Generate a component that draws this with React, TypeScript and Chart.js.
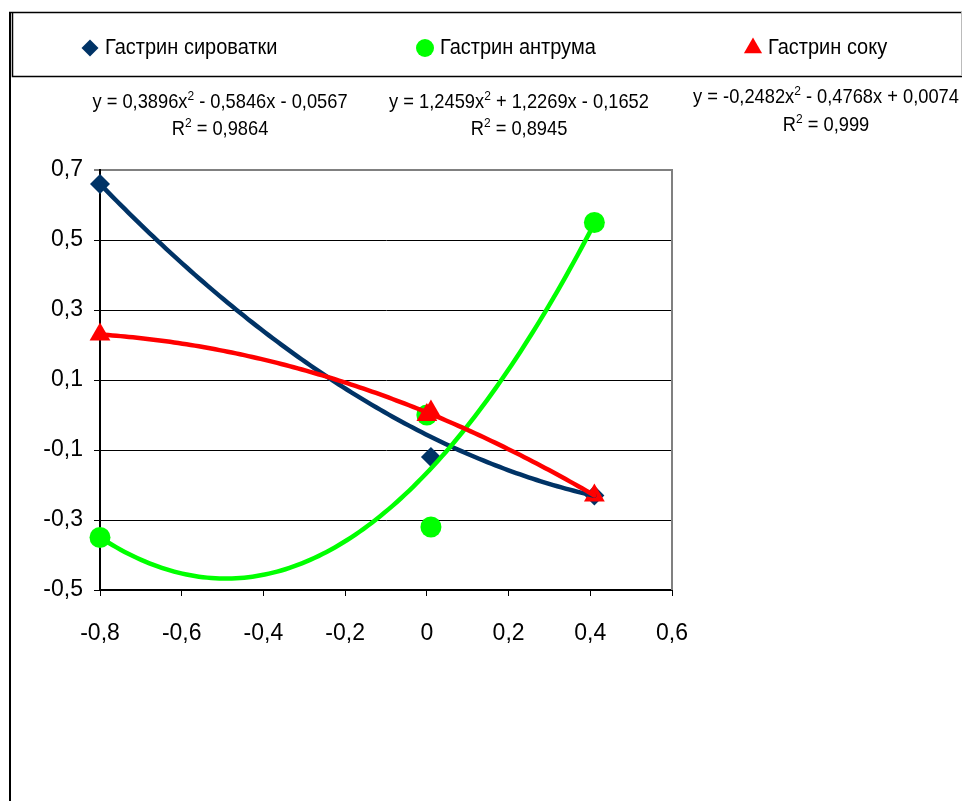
import React, { useEffect, useRef } from "react";
import { Chart, registerables } from "chart.js";
Chart.register(...registerables);

// ---- data ----
const seriesNames = ["Гастрин сироватки", "Гастрин антрума", "Гастрин соку"];
const serumX = [-0.8, 0.01, 0.0, 0.41];
const serumY = [0.66, -0.12, 0.0, -0.23];
const antrumX = [-0.8, 0.01, 0.0, 0.41];
const antrumY = [-0.35, -0.32, 0.0, 0.55];
const juiceX = [-0.8, 0.0, 0.01, 0.41];
const juiceY = [0.23, 0.0, 0.01, -0.23];
// polynomial trendline coefficients [a, b, c] for y = a x^2 + b x + c
const serumTrend = [0.3896, -0.5846, -0.0567];
const antrumTrend = [1.2459, 1.2269, -0.1652];
const juiceTrend = [-0.2482, -0.4768, 0.0074];
const rSquared = ["0,9864", "0,8945", "0,999"];
const trendRange = [-0.8, 0.41];
const xTickRange = [-0.8, 0.6];
const yTickRange = [-0.5, 0.7];
const tickStep = 0.2;

// ---- styles ----
const colors = ["#003366", "#00FF00", "#FF0000"];
const pointStyles = ["rectRot", "circle", "triangle"];
const pointRadii = [10, 10.5, 12];
const FONT = "'Liberation Sans', Arial, sans-serif";

const fmt = (v: number) => {
  if (Math.abs(v) < 1e-9) return "0";
  return v.toFixed(1).replace(".", ",");
};
const fmtCoef = (v: number) => Math.abs(v).toFixed(4).replace(".", ",");

function drawMarker(ctx: CanvasRenderingContext2D, style: string, x: number, y: number, r: number, color: string) {
  ctx.save();
  ctx.fillStyle = color;
  ctx.beginPath();
  if (style === "rectRot") {
    ctx.moveTo(x, y - r);
    ctx.lineTo(x + r, y);
    ctx.lineTo(x, y + r);
    ctx.lineTo(x - r, y);
  } else if (style === "circle") {
    ctx.arc(x, y, r, 0, Math.PI * 2);
  } else {
    ctx.moveTo(x, y - r);
    ctx.lineTo(x + r * 0.866, y + r * 0.5);
    ctx.lineTo(x - r * 0.866, y + r * 0.5);
  }
  ctx.closePath();
  ctx.fill();
  ctx.restore();
}

const framePlugin = {
  id: "frame",
  beforeDraw(chart: any) {
    const ctx = chart.ctx as CanvasRenderingContext2D;
    ctx.save();
    ctx.fillStyle = "#ffffff";
    ctx.fillRect(0, 0, chart.width, chart.height);
    ctx.strokeStyle = "#000000";
    // outer frame
    ctx.lineWidth = 2;
    ctx.beginPath();
    ctx.moveTo(10, 12);
    ctx.lineTo(10, chart.height);
    ctx.stroke();
    ctx.lineWidth = 1.5;
    ctx.beginPath();
    ctx.moveTo(9, 12.5);
    ctx.lineTo(chart.width, 12.5);
    ctx.stroke();
    // legend box
    ctx.lineWidth = 1.5;
    ctx.beginPath();
    ctx.moveTo(12.5, 12);
    ctx.lineTo(12.5, 76.5);
    ctx.lineTo(chart.width, 76.5);
    ctx.stroke();
    ctx.strokeStyle = "#bbbbbb";
    ctx.lineWidth = 1;
    ctx.beginPath();
    ctx.moveTo(961.5, 12);
    ctx.lineTo(961.5, 76);
    ctx.stroke();

    // legend items
    const legendX = [90, 425, 753];
    const textX = [105, 440, 768];
    ctx.font = `20px ${FONT}`;
    ctx.textBaseline = "middle";
    ctx.textAlign = "left";
    for (let i = 0; i < 3; i++) {
      drawMarker(ctx, pointStyles[i], legendX[i], 48, [8.5, 9, 10.5][i], colors[i]);
      ctx.fillStyle = "#000000";
      ctx.save();
      ctx.translate(textX[i], 48);
      ctx.scale(1, 1.08);
      ctx.fillText(seriesNames[i], 0, 0);
      ctx.restore();
    }
    ctx.restore();
  },
  afterDatasetsDraw(chart: any) {
    const ctx = chart.ctx as CanvasRenderingContext2D;
    const xs = chart.scales.x;
    const ys = chart.scales.y;
    ctx.save();
    const trends = [serumTrend, antrumTrend, juiceTrend];
    trends.forEach((c, i) => {
      ctx.strokeStyle = colors[i];
      ctx.lineWidth = 4.5;
      ctx.lineJoin = "round";
      ctx.lineCap = "round";
      ctx.beginPath();
      const n = 120;
      for (let k = 0; k <= n; k++) {
        const x = trendRange[0] + ((trendRange[1] - trendRange[0]) * k) / n;
        const y = c[0] * x * x + c[1] * x + c[2];
        const px = xs.getPixelForValue(x);
        const py = ys.getPixelForValue(y);
        if (k === 0) ctx.moveTo(px, py);
        else ctx.lineTo(px, py);
      }
      ctx.stroke();
    });
    ctx.restore();
  },
  afterDraw(chart: any) {
    const ctx = chart.ctx as CanvasRenderingContext2D;
    const area = chart.chartArea;
    ctx.save();
    // right gray plot border
    ctx.strokeStyle = "#808080";
    ctx.lineWidth = 2;
    ctx.beginPath();
    ctx.moveTo(area.right, area.top - 1);
    ctx.lineTo(area.right, area.bottom);
    ctx.stroke();

    // equations
    const trends = [serumTrend, antrumTrend, juiceTrend];
    const centers = [220, 519, 826];
    const line1Y = [103, 103, 98];
    const line2Y = [130, 130, 126];
    const mainFont = `18.3px ${FONT}`;
    const supFont = `12px ${FONT}`;
    ctx.fillStyle = "#000000";
    ctx.textBaseline = "middle";
    ctx.textAlign = "left";
    const drawParts = (parts: [string, boolean][], cx: number, cy: number) => {
      let w = 0;
      parts.forEach(([t, sup]) => {
        ctx.font = sup ? supFont : mainFont;
        w += ctx.measureText(t).width;
      });
      let x = cx - w / 2;
      parts.forEach(([t, sup]) => {
        ctx.font = sup ? supFont : mainFont;
        ctx.save();
        ctx.translate(x, sup ? cy - 7 : cy);
        ctx.scale(1, 1.08);
        ctx.fillText(t, 0, 0);
        ctx.restore();
        x += ctx.measureText(t).width;
      });
    };
    trends.forEach((c, i) => {
      const a = (c[0] < 0 ? "-" : "") + fmtCoef(c[0]);
      const b = (c[1] < 0 ? " - " : " + ") + fmtCoef(c[1]);
      const cc = (c[2] < 0 ? " - " : " + ") + fmtCoef(c[2]);
      drawParts(
        [
          [`y = ${a}x`, false],
          ["2", true],
          [`${b}x${cc}`, false],
        ],
        centers[i],
        line1Y[i]
      );
      drawParts(
        [
          ["R", false],
          ["2", true],
          [` = ${rSquared[i]}`, false],
        ],
        centers[i],
        line2Y[i]
      );
    });
    ctx.restore();
  },
};

export default function App() {
  const ref = useRef<HTMLCanvasElement>(null);
  useEffect(() => {
    if (!ref.current) return;
    const mk = (xs: number[], ys: number[]) => xs.map((x, i) => ({ x, y: ys[i] }));
    const data = [mk(serumX, serumY), mk(antrumX, antrumY), mk(juiceX, juiceY)];
    const chart = new Chart(ref.current, {
      type: "scatter",
      data: {
        datasets: data.map((d, i) => ({
          label: seriesNames[i],
          data: d,
          pointStyle: pointStyles[i] as any,
          pointRadius: pointRadii[i],
          pointHoverRadius: pointRadii[i],
          backgroundColor: colors[i],
          borderColor: colors[i],
          pointBorderWidth: 0,
          showLine: false,
          clip: false as any,
          order: 3 - i,
        })),
      },
      options: {
        animation: false,
        responsive: false,
        maintainAspectRatio: false,
        layout: { padding: { top: 170, right: 290, left: 0, bottom: 0 } },
        plugins: { legend: { display: false }, tooltip: { enabled: false }, title: { display: false } },
        scales: {
          x: {
            type: "linear",
            min: xTickRange[0],
            max: xTickRange[1],
            afterFit: (s: any) => {
              s.height = 211;
            },
            ticks: {
              stepSize: tickStep,
              color: "#000",
              font: { family: FONT, size: 23 },
              padding: 24,
              maxRotation: 0,
              callback: (v: any) => fmt(Number(v)),
            },
            grid: { drawOnChartArea: false, drawTicks: true, tickLength: 6, tickColor: "#000", tickWidth: 1 },
            border: { display: true, color: "#000", width: 2 },
          },
          y: {
            type: "linear",
            min: yTickRange[0],
            max: yTickRange[1],
            afterFit: (s: any) => {
              s.width = 100;
            },
            ticks: {
              stepSize: tickStep,
              color: "#000",
              font: { family: FONT, size: 23 },
              padding: 11,
              callback: (v: any) => fmt(Number(v)),
            },
            grid: {
              drawOnChartArea: true,
              drawTicks: true,
              tickLength: 6,
              tickColor: "#000",
              tickWidth: 1,
              color: (c: any) => (Math.abs(c.tick?.value - yTickRange[1]) < 1e-6 ? "#808080" : "#000"),
              lineWidth: (c: any) => (Math.abs(c.tick?.value - yTickRange[1]) < 1e-6 ? 2 : 1),
            },
            border: { display: true, color: "#000", width: 2 },
          },
        },
      },
      plugins: [framePlugin],
    });
    return () => chart.destroy();
  }, []);
  return (
    <div style={{ position: "fixed", left: 0, top: 0, width: 962, height: 801, background: "#fff" }}>
      <canvas ref={ref} width={962} height={801} style={{ width: 962, height: 801, display: "block" }} />
    </div>
  );
}
